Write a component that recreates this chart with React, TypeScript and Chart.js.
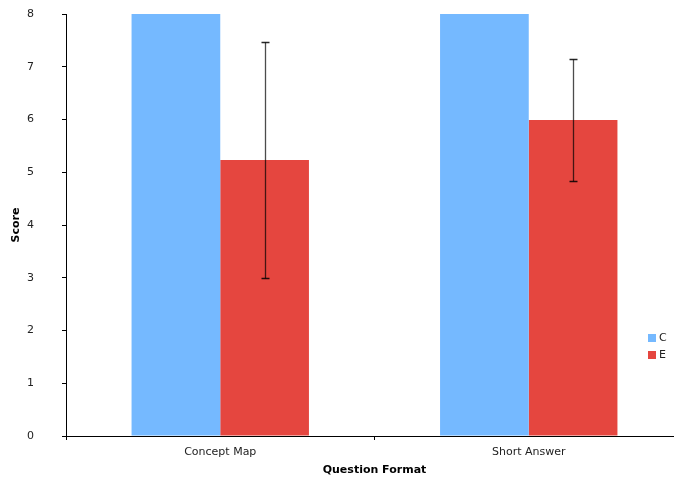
import React, { useEffect, useRef } from "react";
import { Chart, registerables } from "chart.js";

Chart.register(...registerables);

const categories = ["Concept Map", "Short Answer"];
const seriesNames = ["C", "E"];
const cValues = [8, 8];
const eValues = [5.23, 5.99];
const eErrors = [2.23, 1.16];
const yTicks = [0, 1, 2, 3, 4, 5, 6, 7, 8];

const BLUE = "#75B9FF";
const RED = "#E5463F";
const FONT = "'DejaVu Sans', Verdana, sans-serif";

const errorBarPlugin = {
  id: "errorBars",
  afterDatasetsDraw(chart: any) {
    const ctx = chart.ctx;
    const meta = chart.getDatasetMeta(1);
    const y = chart.scales.y;
    ctx.save();
    meta.data.forEach((bar: any, i: number) => {
      const v = eValues[i];
      const e = eErrors[i];
      const x = Math.round(bar.x) + 0.5;
      const yTop = Math.round(y.getPixelForValue(v + e)) + 0.5;
      const yBot = Math.round(y.getPixelForValue(v - e)) + 0.5;
      ctx.strokeStyle = "rgba(0,0,0,0.7)";
      ctx.lineWidth = 1.3;
      ctx.beginPath();
      ctx.moveTo(x, yTop);
      ctx.lineTo(x, yBot);
      ctx.stroke();
      ctx.strokeStyle = "rgba(0,0,0,0.85)";
      ctx.beginPath();
      ctx.moveTo(x - 4, yTop);
      ctx.lineTo(x + 4, yTop);
      ctx.moveTo(x - 4, yBot);
      ctx.lineTo(x + 4, yBot);
      ctx.stroke();
    });
    ctx.restore();
  },
};

const legendPlugin = {
  id: "customLegend",
  afterDraw(chart: any) {
    const ctx = chart.ctx;
    const colors = [BLUE, RED];
    ctx.save();
    ctx.font = `11px ${FONT}`;
    ctx.textBaseline = "middle";
    ctx.textAlign = "left";
    seriesNames.forEach((name, i) => {
      const bx = 648;
      const by = 334 + i * 17;
      ctx.fillStyle = colors[i];
      ctx.fillRect(bx, by, 8, 8);
      ctx.fillStyle = "#222";
      ctx.fillText(name, bx + 11, by + 4.5);
    });
    ctx.restore();
  },
};

export default function App() {
  const ref = useRef<HTMLCanvasElement | null>(null);
  useEffect(() => {
    if (!ref.current) return;
    const chart = new Chart(ref.current, {
      type: "bar",
      data: {
        labels: categories,
        datasets: [
          { label: seriesNames[0], data: cValues, backgroundColor: BLUE, borderWidth: 0 },
          { label: seriesNames[1], data: eValues, backgroundColor: RED, borderWidth: 0 },
        ],
      },
      options: {
        responsive: false,
        animation: false,
        layout: { padding: { top: 14, right: 1, left: 0, bottom: 0 } },
        plugins: {
          legend: { display: false },
          tooltip: { enabled: false },
        },
        datasets: {
          bar: { categoryPercentage: 0.575, barPercentage: 1 },
        },
        scales: {
          x: {
            grid: {
              display: true,
              offset: true,
              drawOnChartArea: false,
              drawTicks: true,
              tickLength: 4,
              color: "#000",
            },
            border: { display: true, color: "#000", width: 1 },
            ticks: {
              color: "#222",
              font: { family: FONT, size: 11 },
              padding: 6,
            },
            title: {
              display: true,
              text: "Question Format",
              color: "#000",
              font: { family: FONT, size: 11, weight: "bold" },
              padding: { top: 0, bottom: 1.5 },
            },
            afterFit(scale: any) {
              scale.height = 42;
              scale.paddingLeft = 0;
              scale.paddingRight = 0;
            },
          },
          y: {
            min: 0,
            max: 8,
            afterBuildTicks(scale: any) {
              scale.ticks = yTicks.map((v) => ({ value: v }));
            },
            grid: {
              display: true,
              drawOnChartArea: false,
              drawTicks: true,
              tickLength: 4,
              color: "#000",
            },
            border: { display: true, color: "#000", width: 1 },
            ticks: {
              color: "#222",
              font: { family: FONT, size: 11 },
              padding: 28,
            },
            title: {
              display: true,
              text: "Score",
              color: "#000",
              font: { family: FONT, size: 11, weight: "bold" },
              padding: { top: 9.5, bottom: 0 },
            },
            afterFit(scale: any) {
              scale.width = 66;
              scale.paddingTop = 6;
              scale.paddingBottom = 6;
            },
          },
        },
      },
      plugins: [errorBarPlugin, legendPlugin],
    } as any);
    return () => chart.destroy();
  }, []);

  return (
    <div
      style={{
        position: "fixed",
        left: 0,
        top: 0,
        width: 674,
        height: 478,
        overflow: "hidden",
        background: "#fff",
      }}
    >
      <canvas ref={ref} width={684} height={478} style={{ display: "block" }} />
    </div>
  );
}
